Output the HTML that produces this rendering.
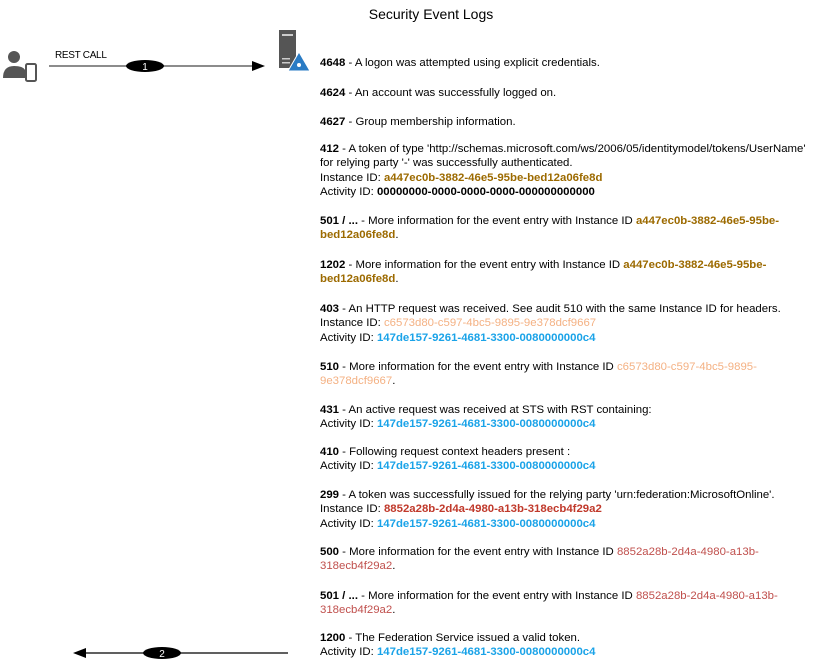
<!DOCTYPE html>
<html><head><meta charset="utf-8"><style>
body{margin:0;width:818px;height:667px;background:#fff;position:relative;overflow:hidden;font-family:"Liberation Sans",sans-serif;}
.l{position:absolute;left:320px;font-size:11.4px;line-height:14.3px;color:#000;white-space:nowrap;margin-top:1px}
.g{color:#9c6a00;font-weight:bold}
.o{color:#f4b183}
.b{color:#1aa3e8;font-weight:bold}
.r{color:#c0392b;font-weight:bold}
.rn{color:#c0504d}
</style></head><body>
<div style="position:absolute;left:331px;top:6px;width:200px;text-align:center;font-size:14px">Security Event Logs</div>
<svg width="818" height="667" style="position:absolute;left:0;top:0">
 <circle cx="14" cy="57" r="6" fill="#555"/>
 <path d="M3 78 Q3 66 14 66 Q23 66 25 70 L25 78 Z" fill="#555"/>
 <rect x="26" y="64" width="10" height="17" rx="1.5" fill="#fff" stroke="#555" stroke-width="2"/>
 <rect x="279" y="30" width="17" height="38" fill="#555"/>
 <rect x="282" y="34" width="11" height="2" fill="#ccc"/>
 <rect x="282" y="58" width="8" height="1.5" fill="#ccc"/>
 <rect x="282" y="62" width="8" height="1.5" fill="#ccc"/>
 <polygon points="299,52 310,71 288,71" fill="#2a7bc4" stroke="#fff" stroke-width="1"/>
 <circle cx="299" cy="65" r="2" fill="#fff"/>
 <line x1="49" y1="66" x2="255" y2="66" stroke="#666" stroke-width="1.5"/>
 <polygon points="265,66 252,61 252,71" fill="#000"/>
 <ellipse cx="145" cy="66" rx="19" ry="6" fill="#000"/>
 <text x="145" y="70" font-size="10" fill="#fff" text-anchor="middle" font-family="Liberation Sans">1</text>
 <text x="55" y="58" font-size="10" font-family="Liberation Sans" letter-spacing="-0.3">REST CALL</text>
 <line x1="85" y1="653" x2="288" y2="653" stroke="#000" stroke-width="1.2"/>
 <polygon points="73,653 86,648 86,658" fill="#000"/>
 <ellipse cx="162" cy="653" rx="19" ry="6" fill="#000"/>
 <text x="162" y="657" font-size="10" fill="#fff" text-anchor="middle" font-family="Liberation Sans">2</text>
</svg>
<div class="l" style="top:55px"><b>4648</b> - A logon was attempted using explicit credentials.</div>
<div class="l" style="top:85px"><b>4624</b> - An account was successfully logged on.</div>
<div class="l" style="top:114px"><b>4627</b> - Group membership information.</div>
<div class="l" style="top:141px"><b>412</b> - A token of type 'http://schemas.microsoft.com/ws/2006/05/identitymodel/tokens/UserName'<br>for relying party '-' was successfully authenticated.<br>Instance ID: <span class="g">a447ec0b-3882-46e5-95be-bed12a06fe8d</span><br>Activity ID: <b>00000000-0000-0000-0000-000000000000</b></div>
<div class="l" style="top:213px"><b>501 / ...</b> - More information for the event entry with Instance ID <span class="g">a447ec0b-3882-46e5-95be-</span><br><span class="g">bed12a06fe8d</span>.</div>
<div class="l" style="top:257px"><b>1202</b> - More information for the event entry with Instance ID <span class="g">a447ec0b-3882-46e5-95be-</span><br><span class="g">bed12a06fe8d</span>.</div>
<div class="l" style="top:301px"><b>403</b> - An HTTP request was received. See audit 510 with the same Instance ID for headers.<br>Instance ID: <span class="o">c6573d80-c597-4bc5-9895-9e378dcf9667</span><br>Activity ID: <span class="b">147de157-9261-4681-3300-0080000000c4</span></div>
<div class="l" style="top:359px"><b>510</b> - More information for the event entry with Instance ID <span class="o">c6573d80-c597-4bc5-9895-</span><br><span class="o">9e378dcf9667</span>.</div>
<div class="l" style="top:402px"><b>431</b> - An active request was received at STS with RST containing:<br>Activity ID: <span class="b">147de157-9261-4681-3300-0080000000c4</span></div>
<div class="l" style="top:444px"><b>410</b> - Following request context headers present :<br>Activity ID: <span class="b">147de157-9261-4681-3300-0080000000c4</span></div>
<div class="l" style="top:487px"><b>299</b> - A token was successfully issued for the relying party 'urn:federation:MicrosoftOnline'.<br>Instance ID: <span class="r">8852a28b-2d4a-4980-a13b-318ecb4f29a2</span><br>Activity ID: <span class="b">147de157-9261-4681-3300-0080000000c4</span></div>
<div class="l" style="top:544px"><b>500</b> - More information for the event entry with Instance ID <span class="rn">8852a28b-2d4a-4980-a13b-</span><br><span class="rn">318ecb4f29a2</span>.</div>
<div class="l" style="top:588px"><b>501 / ...</b> - More information for the event entry with Instance ID <span class="rn">8852a28b-2d4a-4980-a13b-</span><br><span class="rn">318ecb4f29a2</span>.</div>
<div class="l" style="top:630px"><b>1200</b> - The Federation Service issued a valid token.<br>Activity ID: <span class="b">147de157-9261-4681-3300-0080000000c4</span></div>
</body></html>
